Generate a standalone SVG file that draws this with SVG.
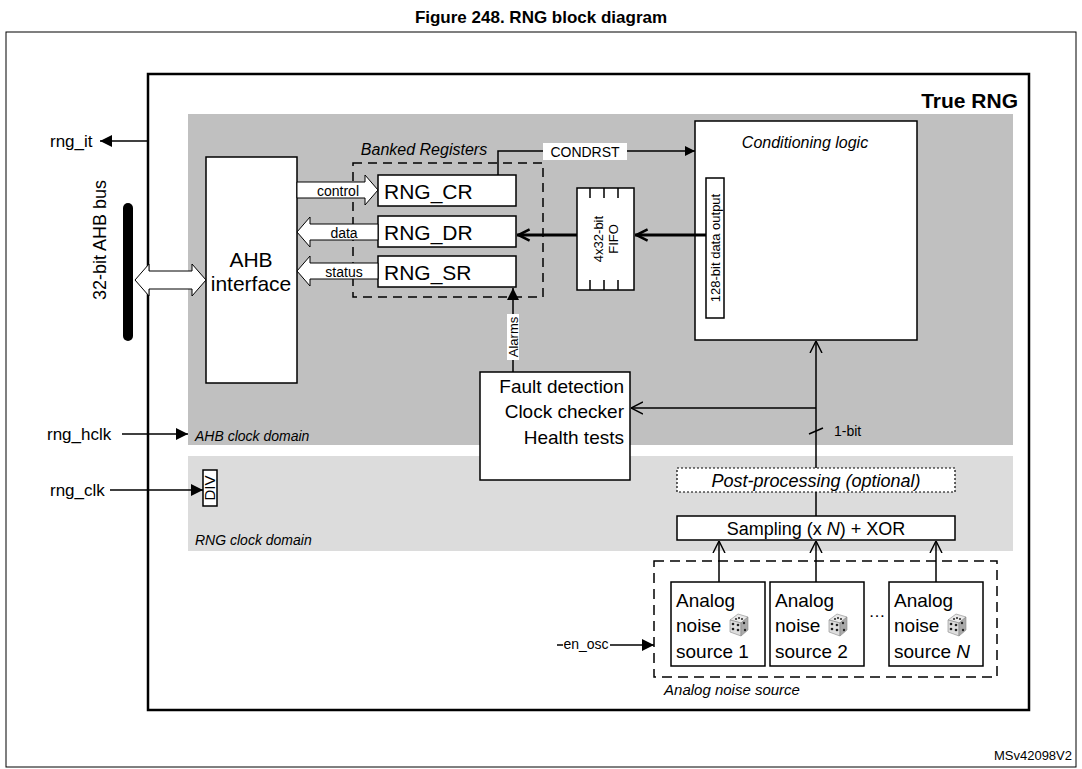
<svg xmlns="http://www.w3.org/2000/svg" width="1082" height="769" viewBox="0 0 1082 769">
<defs>
<style>
text{font-family:"Liberation Sans",Arial,sans-serif;fill:#000}
.b{fill:#fff;stroke:#000;stroke-width:1.5}
.l{fill:none;stroke:#000;stroke-width:1.5}
.it{font-style:italic}
</style>
<marker id="f" viewBox="0 0 10 10" refX="10" refY="5" markerWidth="14" markerHeight="10" orient="auto" markerUnits="userSpaceOnUse"><path d="M0,0L10,5L0,10z" fill="#000"/></marker>
<marker id="fb" viewBox="0 0 10 10" refX="10" refY="5" markerWidth="16" markerHeight="12" orient="auto" markerUnits="userSpaceOnUse"><path d="M0,0L10,5L0,10z" fill="#000"/></marker>
<marker id="o" viewBox="0 0 10 10" refX="10" refY="5" markerWidth="12" markerHeight="16" orient="auto" markerUnits="userSpaceOnUse"><path d="M0,0L10,5L0,10" fill="none" stroke="#000" stroke-width="1.2"/></marker>
<marker id="ot" viewBox="0 0 10 10" refX="10" refY="5" markerWidth="14" markerHeight="18" orient="auto" markerUnits="userSpaceOnUse"><path d="M1,1L9,5L1,9" fill="none" stroke="#000" stroke-width="1.8"/></marker>
<g id="die"><polygon points="0,6 8,0 18,3 11,9" fill="#e8e8e8" stroke="#888" stroke-width="0.6"/><polygon points="0,6 11,9 11,22 0,18" fill="#ddd" stroke="#888" stroke-width="0.6"/><polygon points="11,9 18,3 18,16 11,22" fill="#aaa" stroke="#888" stroke-width="0.6"/><circle cx="3" cy="10" r="1.3" fill="#222"/><circle cx="8" cy="16" r="1.3" fill="#222"/><circle cx="3" cy="15" r="1.3" fill="#222"/><circle cx="8" cy="11" r="1.3" fill="#222"/><circle cx="14" cy="9" r="1.2" fill="#222"/><circle cx="15" cy="16" r="1.2" fill="#222"/><circle cx="9" cy="4" r="1" fill="#222"/><circle cx="6" cy="5" r="1" fill="#222"/><circle cx="12" cy="5" r="1" fill="#222"/></g>
</defs>
<rect width="1082" height="769" fill="#fff"/>
<text x="541" y="23" font-size="17" font-weight="bold" text-anchor="middle">Figure 248. RNG block diagram</text>
<rect x="6" y="32" width="1070" height="735" fill="none" stroke="#000" stroke-width="1"/>
<g id="truerng">
<rect x="148" y="74" width="881" height="636" fill="#fff" stroke="#000" stroke-width="2.5"/>
<rect x="188" y="114" width="825" height="331" fill="#c0c0c0"/>
<rect x="188" y="456" width="825" height="95" fill="#dcdcdc"/>
<text x="1018" y="108" font-size="21" font-weight="bold" text-anchor="end">True RNG</text>
<text x="195" y="441" font-size="14" class="it">AHB clock domain</text>
<text x="195" y="545" font-size="14" class="it">RNG clock domain</text>
</g>
<g id="ahb"><rect class="b" x="206" y="157" width="91" height="226"/><text x="251" y="267" font-size="21" text-anchor="middle">AHB</text><text x="251" y="291" font-size="21" text-anchor="middle">interface</text></g>
<g id="bus"><rect x="123" y="203" width="10" height="138" rx="5" fill="#000"/><text transform="translate(106,240) rotate(-90)" font-size="18" text-anchor="middle">32-bit AHB bus</text></g>
<g id="banked"><rect x="353" y="163" width="190" height="134" fill="none" stroke="#000" stroke-width="1.5" stroke-dasharray="9,6"/><text x="424" y="155" font-size="16" class="it" text-anchor="middle">Banked Registers</text></g>
<g id="cr"><rect class="b" x="378" y="175" width="138" height="31"/><text x="384" y="199" font-size="21">RNG_CR</text></g>
<g id="dr"><rect class="b" x="378" y="216" width="138" height="31"/><text x="384" y="240" font-size="21">RNG_DR</text></g>
<g id="sr"><rect class="b" x="378" y="256" width="138" height="31"/><text x="384" y="280" font-size="21">RNG_SR</text></g>
<g id="fifo"><rect class="b" x="577" y="188" width="57" height="102"/>
<path class="l" d="M590,188v10M604,188v10M618,188v10M590,290v-10M604,290v-10M618,290v-10"/>
<text transform="translate(603,239) rotate(-90)" font-size="13" text-anchor="middle">4x32-bit</text><text transform="translate(618,239) rotate(-90)" font-size="13" text-anchor="middle">FIFO</text></g>
<g id="cond"><rect class="b" x="695" y="121" width="222" height="219"/><text x="805" y="148" font-size="16" class="it" text-anchor="middle">Conditioning logic</text>
<rect class="b" x="706" y="178" width="18" height="140"/><text transform="translate(720,248) rotate(-90)" font-size="13" text-anchor="middle">128-bit data output</text></g>
<g id="fault"><rect class="b" x="480" y="372" width="150" height="108"/>
<text x="624" y="393" font-size="19" text-anchor="end">Fault detection</text><text x="624" y="418" font-size="19" text-anchor="end">Clock checker</text><text x="624" y="444" font-size="19" text-anchor="end">Health tests</text></g>
<g id="div"><rect class="b" x="203" y="470" width="14" height="36"/><text transform="translate(215,488) rotate(-90)" font-size="15" text-anchor="middle">DIV</text></g>
<g id="post"><rect x="677" y="468" width="278" height="24" fill="#fff" stroke="#000" stroke-width="1.2" stroke-dasharray="2,2"/><text x="816" y="487" font-size="18" class="it" text-anchor="middle">Post-processing (optional)</text></g>
<g id="samp"><rect class="b" x="677" y="516" width="278" height="24"/><text x="816" y="535" font-size="18" text-anchor="middle">Sampling (x <tspan font-style="italic">N</tspan>) + XOR</text></g>
<g id="analog"><rect x="654" y="561" width="343" height="116" fill="none" stroke="#000" stroke-width="1.5" stroke-dasharray="10,6"/><text x="732" y="695" font-size="15" class="it" text-anchor="middle">Analog noise source</text>
<text x="877" y="617" font-size="17" text-anchor="middle">…</text></g>
<g id="src1"><rect class="b" x="671" y="582" width="94" height="84"/><text x="676" y="607" font-size="19">Analog</text><text x="676" y="632" font-size="19">noise</text><text x="676" y="658" font-size="19">source 1</text><use href="#die" x="730" y="614"/></g>
<g id="src2"><rect class="b" x="770" y="582" width="94" height="84"/><text x="775" y="607" font-size="19">Analog</text><text x="775" y="632" font-size="19">noise</text><text x="775" y="658" font-size="19">source 2</text><use href="#die" x="829" y="614"/></g>
<g id="srcN"><rect class="b" x="889" y="582" width="94" height="84"/><text x="894" y="607" font-size="19">Analog</text><text x="894" y="632" font-size="19">noise</text><text x="894" y="658" font-size="19">source <tspan font-style="italic">N</tspan></text><use href="#die" x="948" y="614"/></g>
<g id="connectors">
<line class="l" x1="148" y1="141" x2="100" y2="141" marker-end="url(#fb)"/>
<text x="50" y="147" font-size="17">rng_it</text>
<line class="l" x1="122" y1="434" x2="188" y2="434" marker-end="url(#fb)"/>
<text x="47" y="440" font-size="17">rng_hclk</text>
<line class="l" x1="110" y1="490" x2="203" y2="490" marker-end="url(#fb)"/>
<text x="50" y="496" font-size="17">rng_clk</text>
<path d="M135,280L149,264V271H192V264L206,280L192,296V289H149V296Z" fill="#fff" stroke="#000" stroke-width="1"/>
<path d="M297,182H365V175L378,190L365,205V198H297Z" fill="#fff" stroke="#000" stroke-width="1"/>
<text x="338" y="196" font-size="14" text-anchor="middle">control</text>
<path d="M378,224H310V217L297,232L310,247V240H378Z" fill="#fff" stroke="#000" stroke-width="1"/>
<text x="344" y="238" font-size="14" text-anchor="middle">data</text>
<path d="M378,263H310V256L297,271L310,286V279H378Z" fill="#fff" stroke="#000" stroke-width="1"/>
<text x="344" y="277" font-size="14" text-anchor="middle">status</text>
<polyline class="l" points="498,175 498,151 695,151" marker-end="url(#f)"/>
<rect x="543" y="143" width="84" height="17" fill="#fff"/>
<text x="585" y="157" font-size="14" text-anchor="middle">CONDRST</text>
<line x1="706" y1="235" x2="635" y2="235" stroke="#000" stroke-width="3" marker-end="url(#ot)"/>
<line x1="577" y1="235" x2="517" y2="235" stroke="#000" stroke-width="3" marker-end="url(#ot)"/>
<line class="l" x1="513" y1="372" x2="513" y2="288" marker-end="url(#fb)"/>
<rect x="507" y="314" width="12" height="46" fill="#fff"/>
<text transform="translate(518,337) rotate(-90)" font-size="13" text-anchor="middle">Alarms</text>
<line class="l" x1="816" y1="468" x2="816" y2="341" marker-end="url(#o)"/>
<line class="l" x1="816" y1="408" x2="631" y2="408" marker-end="url(#o)"/>
<line class="l" x1="809" y1="434" x2="823" y2="428"/>
<text x="834" y="436" font-size="14">1-bit</text>
<line class="l" x1="816" y1="492" x2="816" y2="516"/>
<line class="l" x1="719" y1="582" x2="719" y2="541" marker-end="url(#o)"/>
<line class="l" x1="816" y1="582" x2="816" y2="541" marker-end="url(#o)"/>
<line class="l" x1="936" y1="582" x2="936" y2="541" marker-end="url(#o)"/>
<line class="l" x1="557" y1="645" x2="654" y2="645" marker-end="url(#fb)"/>
<rect x="563" y="637" width="47" height="15" fill="#fff"/>
<text x="586" y="649" font-size="14" text-anchor="middle">en_osc</text>
</g>
<text x="1072" y="760" font-size="13" text-anchor="end">MSv42098V2</text>
</svg>
